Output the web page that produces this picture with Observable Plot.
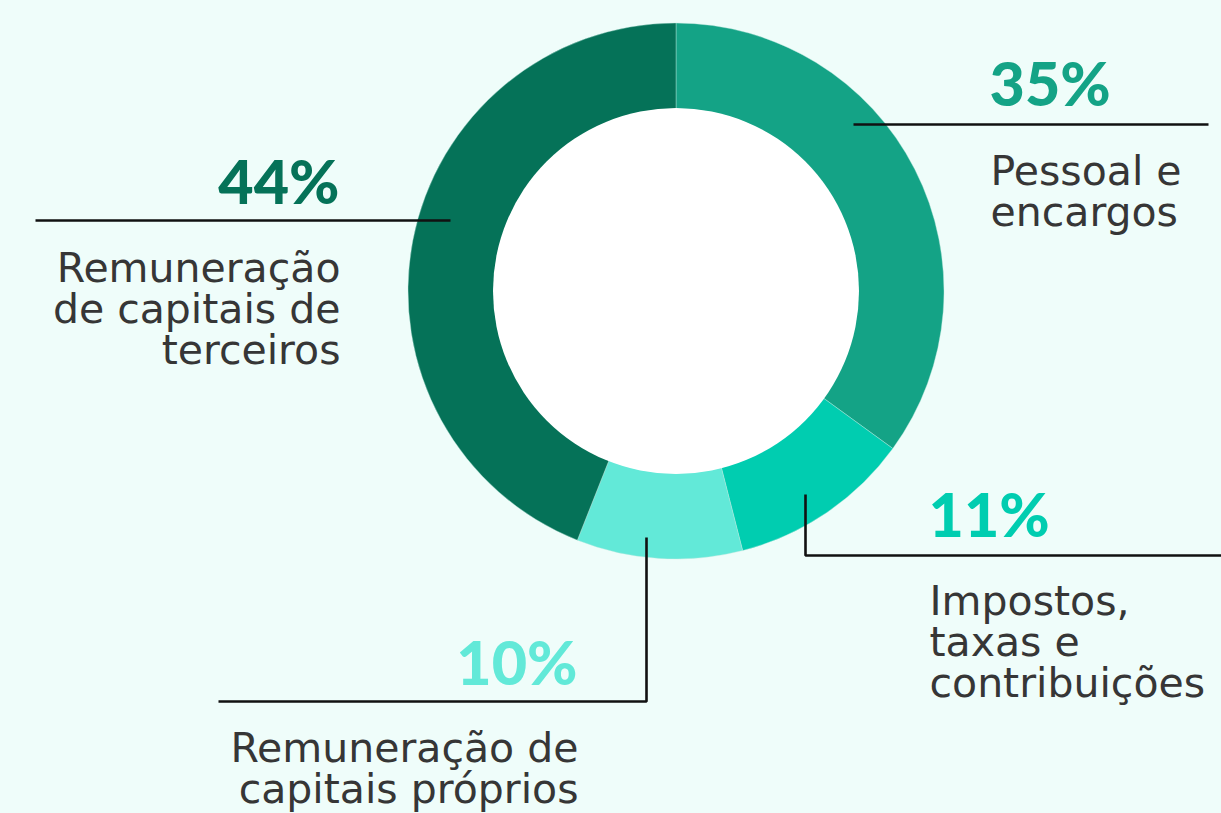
<!DOCTYPE html>
<html><head><meta charset="utf-8">
<script src="https://cdn.jsdelivr.net/npm/d3@7"></script>
<script src="https://cdn.jsdelivr.net/npm/@observablehq/plot@0.6"></script>
<style>
html,body{margin:0;padding:0;background:#effdfa;overflow:hidden}
svg{display:block}
</style>
</head><body><div id="chart"></div>
<script>
// ---- data ----
const categories = [
  "Pessoal e encargos",
  "Impostos, taxas e contribuições",
  "Remuneração de capitais próprios",
  "Remuneração de capitais de terceiros"
];
const shares = [35, 11, 10, 44];
const percentLabels = ["35%", "11%", "10%", "44%"];
const labelLines = [
  ["Pessoal e", "encargos"],
  ["Impostos,", "taxas e", "contribuições"],
  ["Remuneração de", "capitais próprios"],
  ["Remuneração", "de capitais de", "terceiros"]
];
const sliceColors = ["#14a386", "#00cdb0", "#62e9d8", "#057258"];

// ---- layout (pixel-space units of the x/y scales) ----
const center = {x: 676, y: 291};
const outerR = 268, innerR = 183;
const leaders = [
  [[853, 124], [1208, 124]],
  [[805, 494], [805, 555], [1221, 555]],
  [[646, 537], [646, 701], [218, 701]],
  [[450, 220], [35, 220]]
];
const pctPos = [
  {x: 989, y: 105, anchor: "start"},
  {x: 928, y: 536, anchor: "start"},
  {x: 577, y: 684, anchor: "end"},
  {x: 339, y: 203, anchor: "end"}
];
const labelPos = [
  {x: 990, y: 184, anchor: "start"},
  {x: 929, y: 614, anchor: "start"},
  {x: 578, y: 761, anchor: "end"},
  {x: 340, y: 281, anchor: "end"}
];
const labelSize = 41;
const lineStep = 41;

// ---- tables ----
const slices = categories.map((c, i) => ({category: c, share: shares[i]}));
const leaderRows = leaders.flatMap((pts, i) => pts.map(([x, y]) => ({category: categories[i], x, y})));
const pctRows = categories.map((c, i) => ({category: c, text: percentLabels[i], ...pctPos[i]}));
const labelRows = categories.map((c, i) => ({
  category: c,
  text: labelLines[i].join("\n"),
  x: labelPos[i].x,
  y: labelPos[i].y + (labelLines[i].length - 1) * lineStep,
  anchor: labelPos[i].anchor
}));

function donut(index, scales) {
  const cx = scales.x(center.x), cy = scales.y(center.y);
  const R = scales.x(center.x + outerR) - cx;
  const r = scales.x(center.x + innerR) - cx;
  const color = scales.color || ((c) => sliceColors[categories.indexOf(c)]);
  const arcs = d3.pie().sort(null).value(d => d.share)(slices);
  const g = d3.create("svg:g").attr("transform", `translate(${cx},${cy})`);
  g.selectAll("path").data(arcs).join("path")
    .attr("d", d3.arc().innerRadius(r - 1).outerRadius(R))
    .attr("fill", d => color(d.data.category))
    .attr("stroke", "#bfe9dd").attr("stroke-width", 0.4);
  g.append("circle").attr("r", r).attr("fill", "#ffffff");
  return g.node();
}

const chart = Plot.plot({
  width: 1221,
  height: 813,
  margin: 0,
  style: {background: "#effdfa", overflow: "visible"},
  x: {domain: [0, 1221], range: [0, 1221], axis: null},
  y: {domain: [0, 813], range: [0, 813], axis: null},
  color: {domain: categories, range: sliceColors},
  marks: [
    donut,
    ...categories.map(c => Plot.line(leaderRows.filter(d => d.category === c), {
      x: "x", y: "y", stroke: "#111111", strokeWidth: 2.6, strokeLinejoin: "miter", strokeLinecap: "butt"
    })),
    ...["start", "end"].map(a => Plot.text(pctRows.filter(d => d.anchor === a), {
      x: "x", y: "y", text: "text", fill: "category", textAnchor: a, lineAnchor: "bottom",
      fontFamily: "Lato", fontWeight: 900, fontSize: 61
    })),
    ...["start", "end"].map(a => Plot.text(labelRows.filter(d => d.anchor === a), {
      x: "x", y: "y", text: "text", fill: "#363636", textAnchor: a, lineAnchor: "bottom",
      lineHeight: lineStep / labelSize,
      fontFamily: "DejaVu Sans", fontWeight: 400, fontSize: labelSize
    }))
  ]
});
document.getElementById("chart").appendChild(chart);
</script>
</body></html>
